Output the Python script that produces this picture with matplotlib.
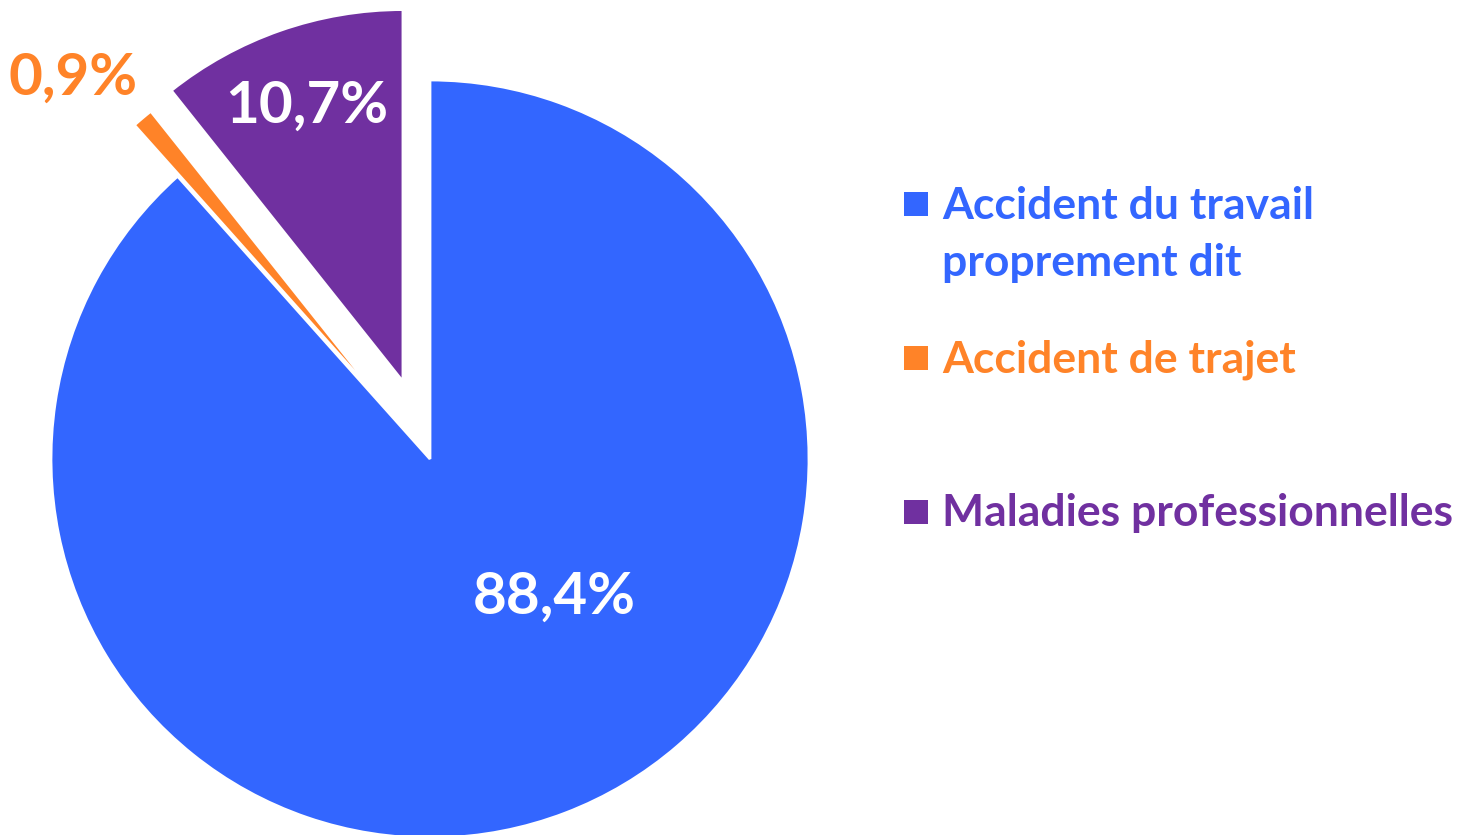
import numpy as np
import matplotlib
matplotlib.use("Agg")
import matplotlib.pyplot as plt

# Data
categories = ["Accident du travail\nproprement dit", "Accident de trajet", "Maladies professionnelles"]
shares = [88.4, 0.9, 10.7]
share_labels = ["88,4%", "0,9%", "10,7%"]
colors = ["#3366FF", "#FF8328", "#7030A0"]
label_colors = ["white", "#FF8328", "white"]

# Layout (pixels)
W, H = 1465, 835
center = (430, H - 459)
radius = 379
explode = [0, 67, 82]
# label placement: (angle in deg or None for mid-angle, distance as fraction of radius)
label_place = [(-48, 0.49), (133.6, 1.20), (None, 0.77)]

plt.rcParams['font.family'] = ['Lato', 'DejaVu Sans']

fig = plt.figure(figsize=(W / 100, H / 100), dpi=100)
ax = fig.add_axes([0, 0, 1, 1])
ax.axis('off')

wedges, _ = ax.pie(shares, colors=colors, startangle=90, counterclock=False,
                   radius=radius, center=center, explode=explode,
                   wedgeprops=dict(edgecolor='white', linewidth=2))
wedges[2].set_radius(372)
ax.set_xlim(0, W)
ax.set_ylim(0, H)
ax.set_aspect('equal')

# Slice labels
for w, txt, col, (ang, dist) in zip(wedges, share_labels, label_colors, label_place):
    if ang is None:
        ang = (w.theta1 + w.theta2) / 2
    cx, cy = w.center
    x = cx + dist * radius * np.cos(np.radians(ang))
    y = cy + dist * radius * np.sin(np.radians(ang))
    ax.text(x, y, txt, color=col, fontsize=42, fontweight='bold',
            ha='center', va='center')

# Legend drawn by hand (uneven spacing as in the original)
legend_y = [204, 358, 512]   # marker centres, pixels from top
line_step = 58
for lab, col, my in zip(categories, colors, legend_y):
    nlines = lab.count("\n") + 1
    ax.scatter([916], [H - my], marker='s', s=300, color=col, linewidths=0)
    ax.text(942, H - my - 14 - (nlines - 1) * line_step, lab, color=col,
            fontsize=32, fontweight='bold', ha='left', va='baseline',
            linespacing=1.53)

fig.savefig("out.png", dpi=100)
